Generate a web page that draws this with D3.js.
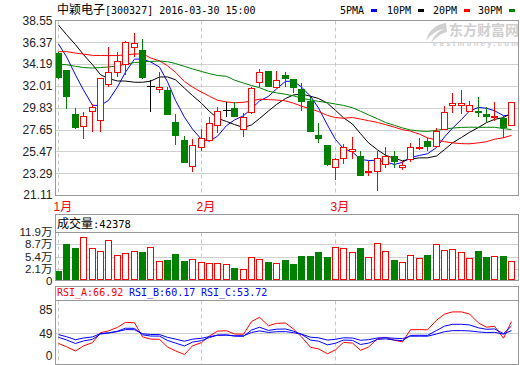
<!DOCTYPE html>
<html>
<head>
<meta charset="utf-8">
<script src="https://cdnjs.cloudflare.com/ajax/libs/d3/7.8.5/d3.min.js"></script>
<style>
  body { margin: 0; background: #fff; }
  text { font-family: "Liberation Sans", "Noto Sans CJK SC", sans-serif; }
  .mono { font-family: "DejaVu Sans Mono", "Noto Sans CJK SC", monospace; }
</style>
</head>
<body>
<svg id="chart" width="520" height="365"></svg>
<script>
// header info
const stockName = "中颖电子";
const stockCode = "[300327] 2016-03-30 15:00";

// daily k-line, 55 trading days (Jan - Mar 30 2016)
const opens  = [35.3, 33.6, 29.2, 28.03, 29.53, 28.6, 32.2, 33.37, 34.17, 35.87,
                35.6, 31.99, 31.7, 31.6, 28.43, 26.6, 24.03, 25.87, 26.6, 28.07,
                29.6, 29.77, 27.67, 29.37, 32.43, 33.5, 31.93, 33.1, 32.7, 31.67,
                30.53, 27.1, 26.07, 23.93, 24.77, 25.53, 25.0, 23.37, 23.5, 24.2,
                25.03, 23.87, 24.67, 25.8, 26.5, 26.03, 27.7, 30.13, 30.15, 29.53,
                29.53, 29.2, 28.95, 28.77, 28.13];
const highs  = [35.4, 33.65, 29.77, 29.43, 30.2, 32.8, 35.93, 35.43, 36.55, 37.27,
                36.67, 32.6, 33.37, 31.93, 29.2, 27.05, 26.7, 27.67, 28.87, 29.93,
                30.43, 30.43, 29.27, 31.93, 33.67, 33.5, 33.53, 33.37, 32.7, 32.27,
                30.93, 28.27, 26.1, 24.77, 26.2, 26.87, 25.5, 24.53, 25.5, 25.87,
                25.5, 24.53, 26.33, 26.77, 26.83, 27.77, 30.03, 31.33, 31.6, 30.5,
                30.87, 29.93, 30.37, 28.97, 30.45];
const lows   = [32.7, 29.67, 27.7, 26.7, 27.43, 27.43, 31.93, 32.87, 33.1, 34.93,
                32.7, 29.43, 31.27, 29.1, 26.1, 24.3, 23.37, 25.53, 26.5, 27.33,
                28.93, 28.9, 26.93, 29.2, 31.93, 31.9, 31.77, 31.93, 31.27, 29.5,
                27.37, 26.33, 24.0, 22.6, 24.2, 24.67, 23.0, 23.0, 21.53, 23.77,
                23.77, 23.6, 24.43, 25.6, 25.53, 26.0, 27.6, 29.27, 29.17, 29.5,
                28.87, 28.43, 28.53, 26.77, 28.1];
const closes = [32.8, 30.87, 27.77, 29.03, 29.87, 32.77, 33.37, 34.53, 36.43, 36.35,
                32.77, 31.99, 31.92, 29.1, 27.03, 24.33, 26.07, 26.77, 28.27, 29.5,
                29.6, 28.93, 28.87, 31.77, 33.37, 31.93, 32.6, 32.7, 31.83, 30.43,
                27.37, 26.7, 24.1, 24.7, 25.87, 25.67, 23.03, 23.5, 24.83, 25.03,
                24.43, 24.1, 25.87, 25.9, 25.87, 27.53, 29.37, 30.27, 30.27, 30.1,
                29.33, 28.93, 29.05, 27.77, 30.43];
// closes of the 29 sessions before the window (estimated from where the MA lines start)
const prevCloses = [32.6, 32.6, 32.6, 31.4, 31.4, 31.5, 31.5, 31.5, 31.0, 31.0,
                    30.5, 30.8, 31.0, 32.5, 33.0, 33.5, 34.5, 34.8, 35.0, 32.0,
                    40.4, 37.8, 39.0, 39.9, 42.8, 37.22, 36.92, 36.53, 37.53];
// volume in 万 (10k lots)
const volumes = [1.66, 8.79, 7.63, 10.57, 7.8, 6.92, 9.85, 5.85, 6.3, 6.92,
                 6.57, 7.9, 4.25, 4.51, 6.11, 4.25, 4.7, 3.9, 3.63, 3.63,
                 3.36, 2.29, 2.03, 5.23, 4.7, 3.98, 3.63, 4.51, 3.44, 5.58,
                 5.58, 6.65, 5.31, 7.9, 7.63, 6.57, 7.72, 5.4, 8.97, 6.84,
                 4.51, 3.98, 5.76, 4.97, 5.85, 8.7, 7.1, 7.37, 6.57, 4.97,
                 6.92, 5.31, 5.5, 5.58, 4.24];

const monthIdx = [0, 17, 33];
const monthText = ["1月", "2月", "3月"];

const priceTicks = [21.11, 23.29, 25.47, 27.65, 29.83, 32.01, 34.19, 36.37, 38.55];
const volTicks = [2.1, 5.4, 8.7, 11.9];
const rsiTicks = [49, 85];

const maNames = ["5PMA", "10PM", "20PM", "30PM"];
const maDays = [5, 10, 20, 30];
const maColors = ["#0000ff", "#000000", "#ff0000", "#008000"];

const volLabel = "成交量:42378";
const rsiNames = ["RSI_A:66.92", "RSI_B:60.17", "RSI_C:53.72"];
const rsiDays = [6, 12, 24];
const rsiColors = ["#ff0000", "#0000ff", "#0000ff"];

const svg = d3.select("#chart");
const n = closes.length;
const L = 55.5, R = 518.5;
const RED = "#ff0000", GREEN = "#008000", GRID = "#d0d0d0", FRAME = "#999";

const x = d3.scaleBand().domain(d3.range(n)).range([54.3, 515.8]);
const cx = i => Math.floor(x(i) + x.bandwidth() / 2) + 0.5;

const yP = d3.scaleLinear().domain([21.11, 38.55]).range([195, 20.5]);
const yV = d3.scaleLinear().domain([0, 11.9]).range([276.9, 232.3]);
const yR = d3.scaleLinear().domain([0, 85]).range([366, 309.3]);

// moving averages + rsi from all closes
const all = prevCloses.concat(closes);
const off = prevCloses.length;
function ma(days) {
  return closes.map((c, i) => d3.mean(all.slice(off + i - days + 1, off + i + 1)));
}
function rsi(days) {
  let up = 0, dn = 0;
  const out = [];
  for (let j = 1; j < all.length; j++) {
    const d = all[j] - all[j - 1];
    up = (Math.max(d, 0) + (days - 1) * up) / days;
    dn = (Math.abs(d) + (days - 1) * dn) / days;
    if (j >= off) out.push(dn === 0 ? 100 : up / dn * 100);
  }
  return out;
}

// watermark
const wm = svg.append("g").attr("fill", "#cfcfcf");
wm.append("path")
  .attr("d", "M446,23 C436,24 428,31 426,41 C431,34 437,30 444,29 C437,32 433,37 431,43 C437,36 442,33 447,32 Z");
wm.append("text").attr("x", 449).attr("y", 35).style("font-size", "14px").style("font-weight", "bold")
  .style("font-family", "Noto Sans CJK SC").text("东方财富网");
wm.append("text").attr("x", 433).attr("y", 46).style("font-size", "7.5px").style("font-weight", "bold")
  .attr("textLength", 85).text("eastmoney.com");

// title
const title = svg.append("text").attr("x", 57).attr("y", 14).style("font-size", "12px");
title.append("tspan").style("font-family", "Noto Sans CJK SC").text(stockName);
title.append("tspan").attr("class", "mono").style("font-size", "10px").text(stockCode);

// legend
const legX = [340, 387, 433, 478];
maNames.forEach((m, k) => {
  svg.append("text").attr("class", "mono").attr("x", legX[k]).attr("y", 14)
    .style("font-size", "10px").text(m);
  svg.append("rect").attr("x", legX[k] + 31).attr("y", 9).attr("width", 6).attr("height", 3)
    .attr("fill", maColors[k]);
});

// ---------- price panel ----------
const pTop = 20.5, pBot = 195.5;
const gp = svg.append("g");
gp.selectAll("line.grid").data(priceTicks.slice(1, -1)).join("line")
  .attr("x1", L).attr("x2", R)
  .attr("y1", d => Math.round(yP(d)) + 0.5).attr("y2", d => Math.round(yP(d)) + 0.5)
  .attr("stroke", GRID);

function monthLines(g, top, bot) {
  g.selectAll("line.mon").data(monthIdx).join("line")
    .attr("x1", d => cx(d)).attr("x2", d => cx(d))
    .attr("y1", top).attr("y2", bot)
    .attr("stroke", "#c8c8c8").attr("stroke-dasharray", "4,3");
}
monthLines(gp, pTop, pBot);

gp.append("g").attr("transform", `translate(${L},0)`)
  .call(d3.axisLeft(yP).tickValues(priceTicks).tickSize(0).tickPadding(3).tickFormat(d3.format(".2f")))
  .call(a => a.select(".domain").remove())
  .selectAll("text").style("font-size", "12px").attr("fill", "#222")
  .style("font-family", "Liberation Sans");

// MA lines
svg.append("clipPath").attr("id", "pclip").append("rect")
  .attr("x", L).attr("y", pTop).attr("width", R - L).attr("height", pBot - pTop);
const maG = gp.append("g").attr("clip-path", "url(#pclip)");
maDays.forEach((d, k) => {
  maG.append("path").datum(ma(d))
    .attr("d", d3.line().x((v, i) => cx(i)).y(v => yP(v)))
    .attr("fill", "none").attr("stroke", maColors[k]).attr("stroke-width", 1);
});

// candles
const kind = i => closes[i] > opens[i] ? "up" : closes[i] < opens[i] ? "down" : "flat";
const kg = gp.append("g").attr("shape-rendering", "crispEdges");
d3.range(n).forEach(i => {
  const xc = cx(i);
  const hi = Math.round(yP(highs[i])), lo = Math.round(yP(lows[i]));
  const t = kind(i);
  if (t === "flat") {
    const yc = Math.round(yP(closes[i])) + 0.5;
    kg.append("line").attr("x1", xc).attr("x2", xc).attr("y1", hi).attr("y2", lo).attr("stroke", "#000");
    kg.append("line").attr("x1", xc - 3.5).attr("x2", xc + 4.5).attr("y1", yc).attr("y2", yc).attr("stroke", "#000");
  } else if (t === "up") {
    const top = Math.round(yP(closes[i])) + 0.5;
    const bot = Math.max(Math.round(yP(opens[i])) + 0.5, top + 1);
    kg.append("line").attr("x1", xc).attr("x2", xc).attr("y1", hi).attr("y2", top).attr("stroke", RED);
    kg.append("line").attr("x1", xc).attr("x2", xc).attr("y1", bot).attr("y2", lo).attr("stroke", RED);
    kg.append("rect").attr("x", xc - 3).attr("y", top).attr("width", 6).attr("height", bot - top)
      .attr("fill", "#fff").attr("stroke", RED);
  } else {
    const top = Math.round(yP(opens[i]));
    const bot = Math.max(Math.round(yP(closes[i])), top + 1);
    kg.append("line").attr("x1", xc).attr("x2", xc).attr("y1", hi).attr("y2", lo).attr("stroke", GREEN);
    kg.append("rect").attr("x", xc - 3.5).attr("y", top).attr("width", 7).attr("height", bot - top)
      .attr("fill", GREEN);
  }
});

gp.append("rect").attr("x", L).attr("y", pTop).attr("width", R - L).attr("height", pBot - pTop)
  .attr("fill", "none").attr("stroke", FRAME).attr("shape-rendering", "crispEdges");

// month labels
svg.selectAll("text.month").data(monthIdx).join("text")
  .attr("x", d => cx(d) - 5).attr("y", 211)
  .attr("fill", RED).style("font-size", "12px").style("font-family", "Liberation Sans, Noto Sans CJK SC")
  .text((d, k) => monthText[k]);

// ---------- volume panel ----------
const vTop = 214.5, vHead = 232.5, vBot = 280.5;
const gv = svg.append("g");
gv.selectAll("line.grid").data(volTicks.slice(0, -1)).join("line")
  .attr("x1", L).attr("x2", R)
  .attr("y1", d => Math.round(yV(d)) + 0.5).attr("y2", d => Math.round(yV(d)) + 0.5)
  .attr("stroke", GRID);
monthLines(gv, vHead, vBot);

gv.append("g").attr("transform", `translate(${L},0)`)
  .call(d3.axisLeft(yV).tickValues(volTicks).tickSize(0).tickPadding(3).tickFormat(d => d + "万"))
  .call(a => a.select(".domain").remove())
  .selectAll("text").style("font-size", "11.5px").attr("fill", "#222");
gv.append("text").attr("x", L - 3).attr("y", 281).attr("dy", "0.35em").attr("text-anchor", "end")
  .style("font-size", "11.5px").attr("fill", "#222").text("0");

const vg = gv.append("g").attr("shape-rendering", "crispEdges");
volumes.forEach((v, i) => {
  const xc = cx(i);
  const top = Math.round(yV(v)) + 0.5;
  if (kind(i) === "down") {
    vg.append("rect").attr("x", xc - 3.5).attr("y", top - 0.5).attr("width", 7).attr("height", vBot - top + 0.5)
      .attr("fill", GREEN);
  } else {
    vg.append("rect").attr("x", xc - 3).attr("y", top).attr("width", 6).attr("height", vBot - 1 - top)
      .attr("fill", "#fff").attr("stroke", RED);
  }
});
gv.append("rect").attr("x", L).attr("y", vTop).attr("width", R - L).attr("height", vBot - vTop)
  .attr("fill", "none").attr("stroke", FRAME).attr("shape-rendering", "crispEdges");
gv.append("line").attr("x1", L).attr("x2", R).attr("y1", vHead).attr("y2", vHead)
  .attr("stroke", FRAME).attr("shape-rendering", "crispEdges");
const vt = gv.append("text").attr("x", 57).attr("y", 227.5).style("font-size", "12px");
vt.append("tspan").style("font-family", "Noto Sans CJK SC").text(volLabel.split(":")[0]);
vt.append("tspan").attr("class", "mono").style("font-size", "10.5px").text(":" + volLabel.split(":")[1]);

// ---------- RSI panel ----------
const rTop = 286.5, rHead = 300.5, rBot = 364.5;
const gr = svg.append("g");
gr.selectAll("line.grid").data([49]).join("line")
  .attr("x1", L).attr("x2", R)
  .attr("y1", d => Math.round(yR(d)) + 0.5).attr("y2", d => Math.round(yR(d)) + 0.5)
  .attr("stroke", GRID);
monthLines(gr, rHead, rBot);

gr.append("g").attr("transform", `translate(${L},0)`)
  .call(d3.axisLeft(yR).tickValues(rsiTicks).tickSize(0).tickPadding(3))
  .call(a => a.select(".domain").remove())
  .selectAll("text").style("font-size", "12px").attr("fill", "#222");
gr.append("text").attr("x", L - 3).attr("y", 355.5).attr("dy", "0.35em").attr("text-anchor", "end")
  .style("font-size", "12px").attr("fill", "#222").text("0");

svg.append("clipPath").attr("id", "rclip").append("rect")
  .attr("x", L).attr("y", rHead).attr("width", R - L).attr("height", rBot - rHead);
const rg = gr.append("g").attr("clip-path", "url(#rclip)");
rsiDays.forEach((d, k) => {
  rg.append("path").datum(rsi(d))
    .attr("d", d3.line().x((v, i) => cx(i)).y(v => yR(v)))
    .attr("fill", "none").attr("stroke", rsiColors[k]).attr("stroke-width", 1);
});

gr.append("rect").attr("x", L).attr("y", rTop).attr("width", R - L).attr("height", rBot - rTop)
  .attr("fill", "none").attr("stroke", FRAME).attr("shape-rendering", "crispEdges");
gr.append("line").attr("x1", L).attr("x2", R).attr("y1", rHead).attr("y2", rHead)
  .attr("stroke", FRAME).attr("shape-rendering", "crispEdges");
const rsiX = [57, 129, 201];
rsiNames.forEach((t, k) => {
  gr.append("text").attr("class", "mono").attr("x", rsiX[k]).attr("y", 296)
    .style("font-size", "10px").attr("fill", rsiColors[k]).text(t);
});
</script>
</body>
</html>
